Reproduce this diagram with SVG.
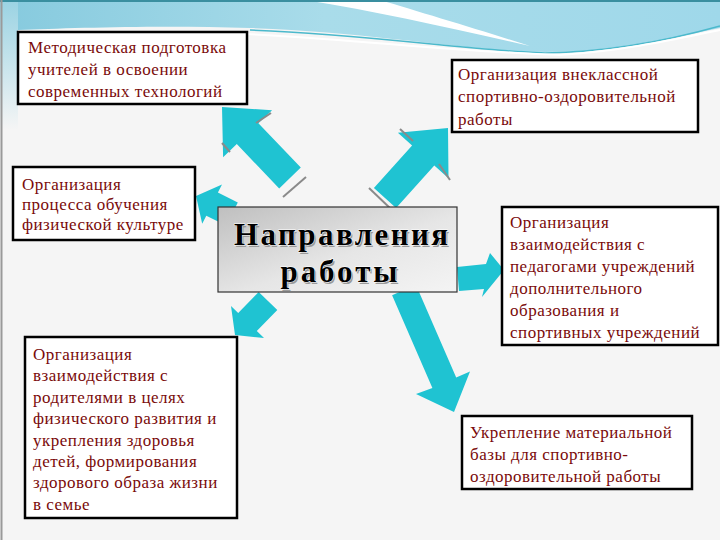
<svg xmlns="http://www.w3.org/2000/svg" width="720" height="540" viewBox="0 0 720 540">
<defs>
<linearGradient id="band" x1="0" y1="0" x2="1" y2="0">
<stop offset="0" stop-color="#86cade"/>
<stop offset="0.45" stop-color="#a9dcea"/>
<stop offset="1" stop-color="#9fd8ea"/>
</linearGradient>
<linearGradient id="leftstrip" x1="0" y1="0" x2="0" y2="1">
<stop offset="0" stop-color="#9ad3e3"/>
<stop offset="1" stop-color="#f5f5f5"/>
</linearGradient>
<linearGradient id="center" x1="0" y1="0" x2="1" y2="1">
<stop offset="0" stop-color="#bfbfbf"/>
<stop offset="0.55" stop-color="#e6e6e6"/>
<stop offset="1" stop-color="#f4f4f4"/>
</linearGradient>
<style>
.box{fill:#ffffff;stroke:#000;stroke-width:2.5}
.t{font-family:'Liberation Serif','Times New Roman',serif;font-size:17px;letter-spacing:0.5px;fill:#7a0a0a}
.arrow{fill:#1fc3d2}
.bevel{stroke:#8a8a8a;stroke-width:2;fill:none}
.big{font-family:'Liberation Serif','Times New Roman',serif;font-size:31px;font-weight:bold;text-anchor:middle}
</style>
</defs>
<rect width="720" height="540" fill="#f5f5f5"/>
<g id="header">
<path d="M0,0 H720 V28 C660,40 610,52 545,52 C460,50 370,32 250,28 C160,25 70,28 18,30 L0,30 Z" fill="url(#band)"/>
<rect x="0" y="0" width="18" height="130" fill="url(#leftstrip)"/>
<path d="M305,0 C380,12 450,28 530,46 C480,30 420,12 380,0 Z" fill="#ffffff"/>
<path d="M250,30 C370,34 460,50 545,53 C610,52 670,40 720,26" fill="none" stroke="#4bb9cc" stroke-width="1.5"/>
<path d="M200,32 C330,36 450,52 560,55 C630,50 680,38 720,30" fill="none" stroke="#ffffff" stroke-width="2"/>
<line x1="0" y1="1" x2="720" y2="1" stroke="#3a8fa0" stroke-width="2"/>
<line x1="1.5" y1="0" x2="1.5" y2="540" stroke="#9a9a9a" stroke-width="2"/>
</g>
<g id="connectors">
<polygon class="arrow" points="300.8,167.6 258.4,123.3 272.1,110.2 222,107 223.1,157.2 236.8,144.1 279.2,188.4"/>
<polygon class="arrow" points="396.1,208 434.3,165.5 448.5,178.2 448,128 397.9,132.8 412.1,145.5 373.9,188"/>
<polygon class="arrow" points="237.8,202.4 217.9,192.5 222,184.4 196,196 202.2,223.8 206.3,215.7 226.2,225.6"/>
<polygon class="arrow" points="457,267 486,264 490,253 504,270 482,297 484,289 459,291"/>
<polygon class="arrow" points="258.7,292 238.2,313.1 231,306.1 235,335 264,338.1 256.8,331.1 277.3,310"/>
<polygon class="arrow" points="392.1,295.2 432.4,387.9 416,394 454,412 470,371.6 456.2,377.5 415.9,284.8"/>
<line class="bevel" x1="256" y1="123" x2="271" y2="113"/>
<line class="bevel" x1="283" y1="197" x2="306" y2="177"/>
<line class="bevel" x1="400" y1="129" x2="413" y2="141"/>
<line class="bevel" x1="439" y1="164" x2="450" y2="180"/>
<line class="bevel" x1="369" y1="188" x2="392" y2="210"/>
<line class="bevel" x1="222" y1="143" x2="230" y2="152"/>
</g>
<g id="n-center">
<rect x="218" y="207" width="239" height="85" fill="url(#center)" stroke="#333" stroke-width="1.2"/>
<text class="big" x="341" y="245" fill="#9a9a9a" textLength="214" lengthAdjust="spacing" transform="translate(1.5,1.5)">Направления</text>
<text class="big" x="341" y="245" fill="#000" stroke="#fff" stroke-width="1" paint-order="stroke" textLength="214" lengthAdjust="spacing">Направления</text>
<text class="big" x="339" y="282" fill="#9a9a9a" textLength="117" lengthAdjust="spacing" transform="translate(1.5,1.5)">работы</text>
<text class="big" x="339" y="282" fill="#000" stroke="#fff" stroke-width="1" paint-order="stroke" textLength="117" lengthAdjust="spacing">работы</text>
</g>
<g id="n-method">
<rect class="box" x="18" y="32" width="229" height="72"/>
<text class="t" x="28" y="53">Методическая подготовка</text>
<text class="t" x="28" y="75">учителей в освоении</text>
<text class="t" x="28" y="97">современных технологий</text>
</g>
<g id="n-extra">
<rect class="box" x="452" y="60" width="246" height="72"/>
<text class="t" x="458" y="80">Организация внеклассной</text>
<text class="t" x="458" y="102">спортивно-оздоровительной</text>
<text class="t" x="458" y="125">работы</text>
</g>
<g id="n-process">
<rect class="box" x="13" y="167" width="182" height="73"/>
<text class="t" x="22" y="190">Организация</text>
<text class="t" x="22" y="210">процесса обучения</text>
<text class="t" x="22" y="230">физической культуре</text>
</g>
<g id="n-teachers">
<rect class="box" x="502" y="207" width="216" height="138"/>
<text class="t" x="510" y="228">Организация</text>
<text class="t" x="510" y="250">взаимодействия с</text>
<text class="t" x="510" y="272">педагогами учреждений</text>
<text class="t" x="510" y="294">дополнительного</text>
<text class="t" x="510" y="316">образования и</text>
<text class="t" x="510" y="338">спортивных учреждений</text>
</g>
<g id="n-parents">
<rect class="box" x="25" y="337" width="212" height="181"/>
<text class="t" x="33" y="360">Организация</text>
<text class="t" x="33" y="381.4">взаимодействия с</text>
<text class="t" x="33" y="402.8">родителями в целях</text>
<text class="t" x="33" y="424.2">физического развития и</text>
<text class="t" x="33" y="445.6">укрепления здоровья</text>
<text class="t" x="33" y="467">детей, формирования</text>
<text class="t" x="33" y="488.4">здорового образа жизни</text>
<text class="t" x="33" y="509.8">в семье</text>
</g>
<g id="n-base">
<rect class="box" x="462" y="416" width="230" height="73"/>
<text class="t" x="470" y="438">Укрепление материальной</text>
<text class="t" x="470" y="460">базы для спортивно-</text>
<text class="t" x="470" y="482">оздоровительной работы</text>
</g>
</svg>
